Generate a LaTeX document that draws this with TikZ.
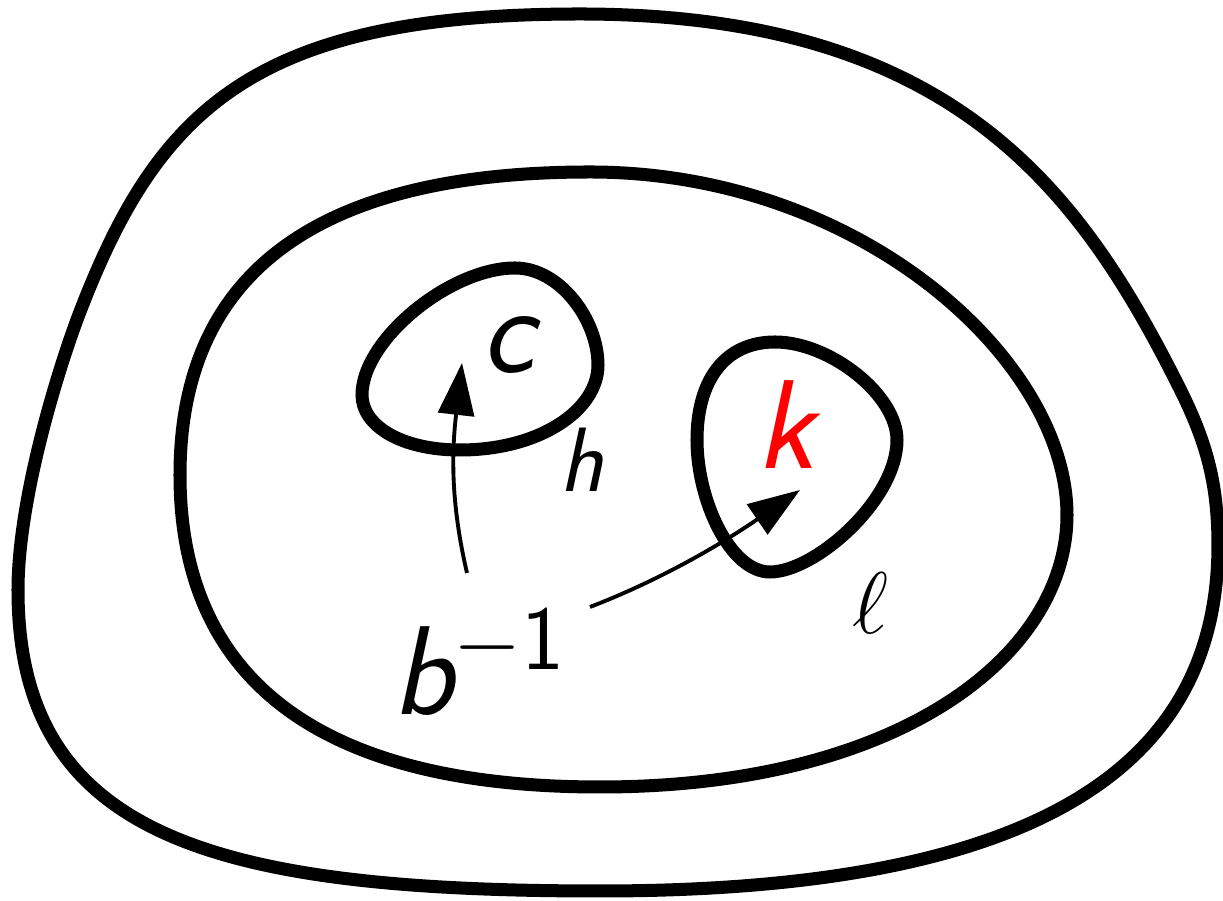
\documentclass[tikz,border=0pt]{standalone}
\usetikzlibrary{arrows.meta}

\begin{document}
\begin{tikzpicture}[x=0.01cm,y=-0.01cm,>={Triangle[length=0.52cm,width=0.36cm]},
  curve/.style={line width=3.7pt},
  arr/.style={line width=1.1pt,->},
  big/.style={font=\fontsize{36}{40}\selectfont\sffamily\itshape},
  small/.style={font=\fontsize{26}{30}\selectfont}]
  \useasboundingbox (0,0) rectangle (1223,901);
  % outer loop
  \draw[curve] (580,14) .. controls (950,14) and (1078,187) .. (1177,383)
    .. controls (1205,438) and (1218,480) .. (1218,545)
    .. controls (1218,750) and (1065,891) .. (600,891)
    .. controls (210,891) and (18,835) .. (18,590)
    .. controls (18,500) and (57,373) .. (78,317)
    .. controls (156,112) and (250,14) .. cycle;
  % middle loop
  \draw[curve] (590,172) .. controls (860,172) and (1067,360) .. (1067,515)
    .. controls (1067,655) and (900,787) .. (600,787)
    .. controls (320,787) and (180,680) .. (180,475)
    .. controls (180,260) and (335,172) .. cycle;
  % small loops
  \draw[curve] (515,268) .. controls (560,268) and (598,320) .. (598,365)
    .. controls (598,410) and (540,450) .. (460,450)
    .. controls (400,450) and (362,425) .. (362,395)
    .. controls (362,340) and (450,268) .. cycle;
  \draw[curve] (775,342) .. controls (830,342) and (897,395) .. (897,440)
    .. controls (897,500) and (815,572) .. (770,572)
    .. controls (730,572) and (697,500) .. (697,440)
    .. controls (697,380) and (725,342) .. cycle;
  % labels
  \node[big] (c) at (508,345) {c};
  \node[big,text=red] (k) at (785,425) {k};
  \node[small,font=\fontsize{26}{30}\selectfont\sffamily\itshape] (h) at (582,460) {h};
  \node[small,font=\fontsize{28}{32}\selectfont] (l) at (870,603) {$\ell$};
  \node[big,anchor=base west] (b) at (380,715)
    {b\raisebox{0.45cm}{\fontsize{26}{30}\selectfont\upshape$-$1}};
  % arrows
  \coordinate (hs) at (467,573);
  \coordinate (ht) at (462,363);
  \coordinate (ls) at (590,607);
  \coordinate (lt) at (800,490);
  \draw[arr] (hs) .. controls (450,500) and (452,450) .. (ht);
  \draw[arr] (ls) .. controls (660,580) and (720,545) .. (lt);
\end{tikzpicture}
\end{document}
